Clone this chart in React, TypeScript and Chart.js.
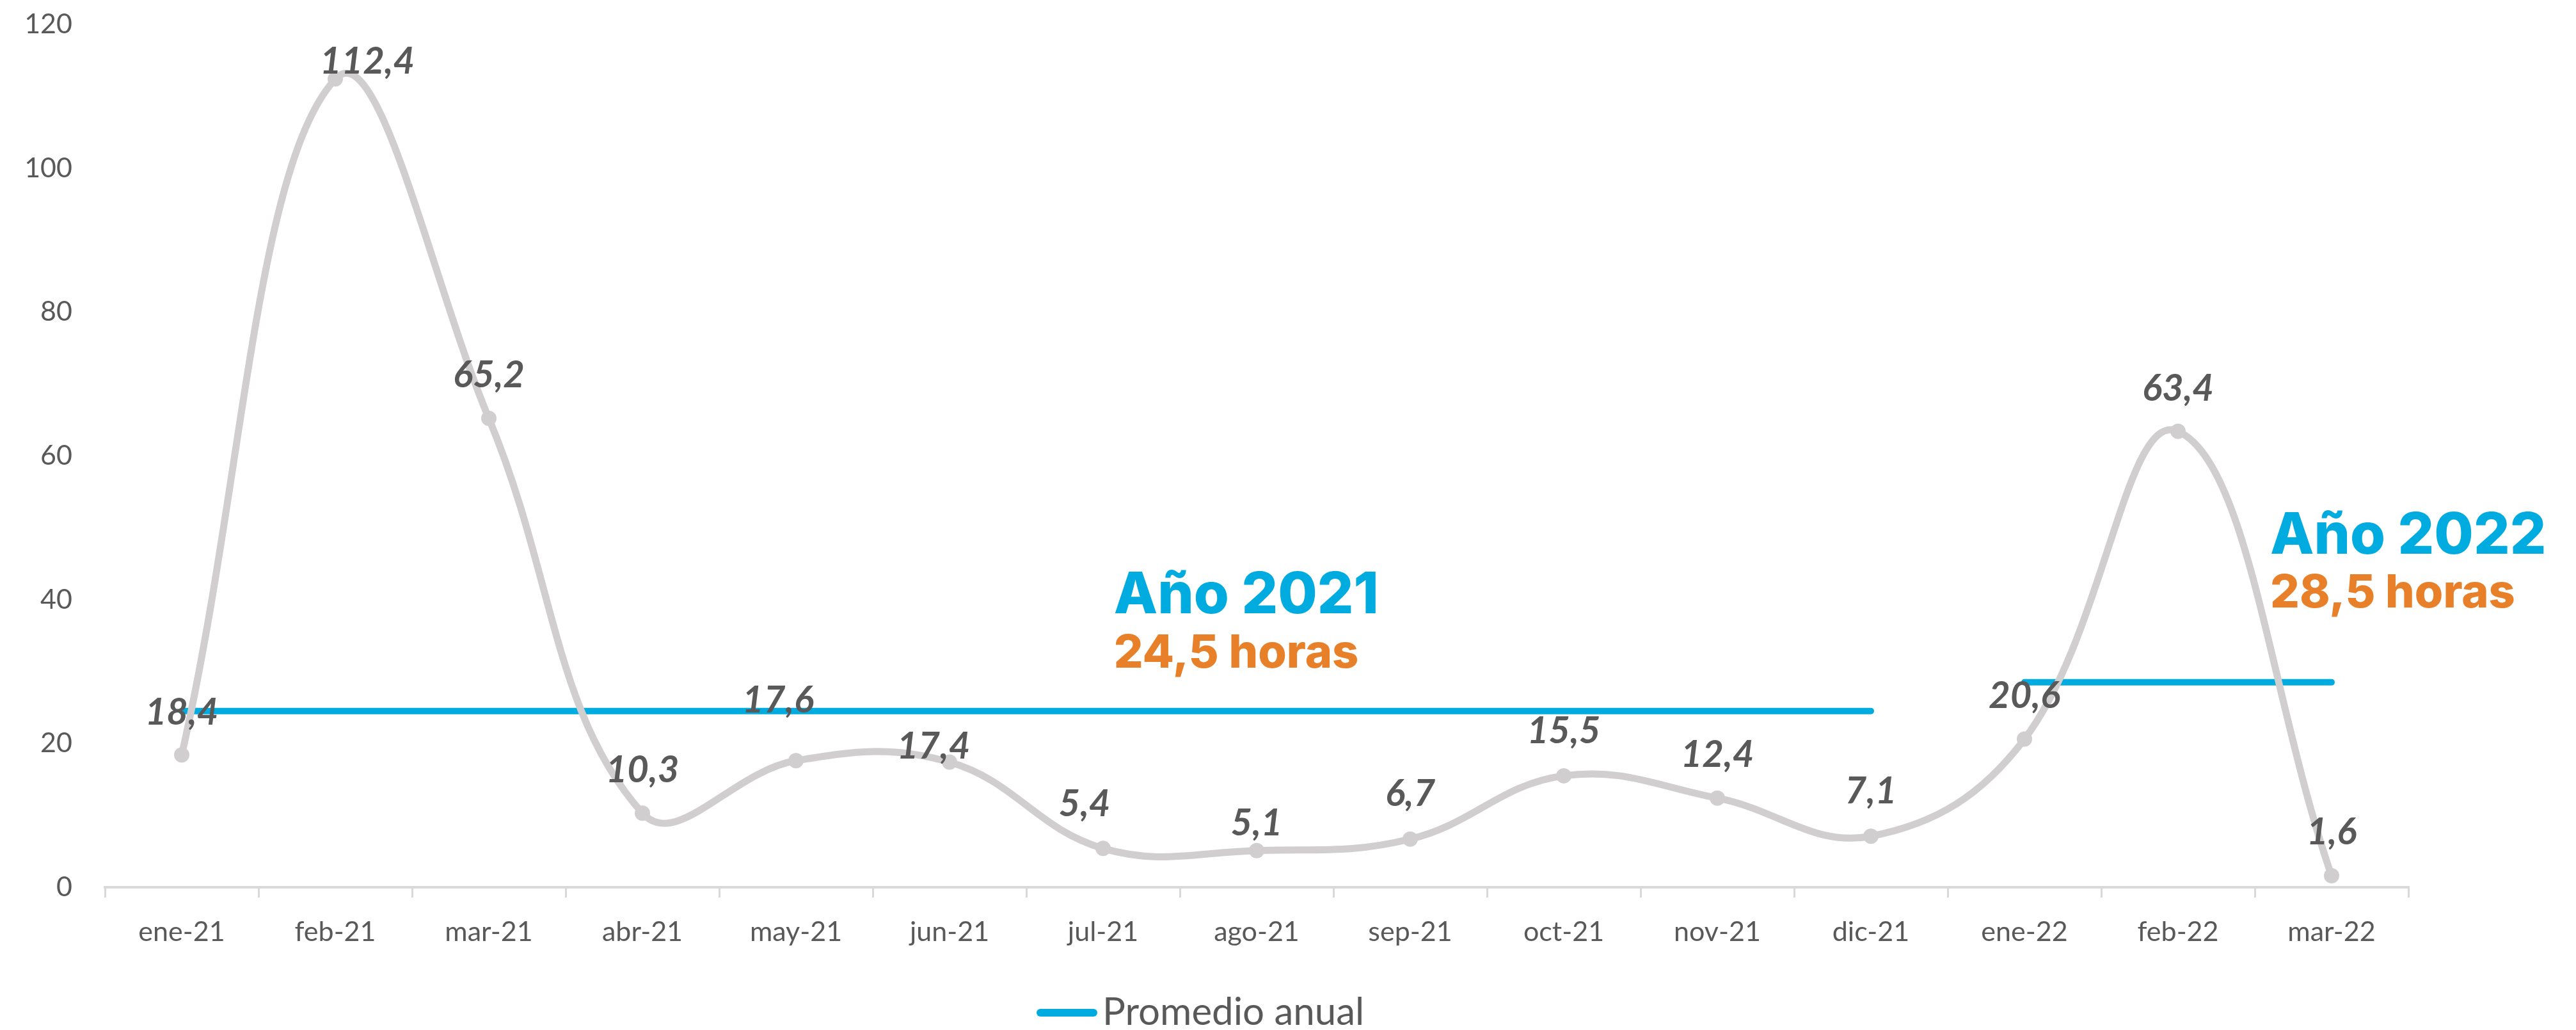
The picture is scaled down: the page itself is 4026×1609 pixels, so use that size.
import React, { useEffect, useRef } from "react";
import { Chart, registerables } from "chart.js";

Chart.register(...registerables);

// ---------- DATA ----------
const categories = [
  "ene-21", "feb-21", "mar-21", "abr-21", "may-21", "jun-21", "jul-21", "ago-21",
  "sep-21", "oct-21", "nov-21", "dic-21", "ene-22", "feb-22", "mar-22",
];
const monthlyHours = [18.4, 112.4, 65.2, 10.3, 17.6, 17.4, 5.4, 5.1, 6.7, 15.5, 12.4, 7.1, 20.6, 63.4, 1.6];
const average2021 = [24.5, 24.5, 24.5, 24.5, 24.5, 24.5, 24.5, 24.5, 24.5, 24.5, 24.5, 24.5, null, null, null];
const average2022 = [null, null, null, null, null, null, null, null, null, null, null, null, 28.5, 28.5, 28.5];
const yTickValues = [0, 20, 40, 60, 80, 100, 120];
const legendLabel = "Promedio anual";
const yearTitles = ["Año 2021", "Año 2022"];
const yearSubtitles = ["24,5 horas", "28,5 horas"];

// ---------- STYLE ----------
const W = 4026;
const H = 1609;
const GRAY = "#D0CECE";
const BLUE = "#00ABE0";
const ORANGE = "#E8802A";
const TEXT = "#595959";
const AXIS = "#D9D9D9";

// per-label pixel offsets for the value labels (dx, dy)
const labelDx = [0, 50, 0, 0, -28, -25, -29, 0, 0, 0, 0, 0, 0, 0, 0];
const labelDy = [-66, -27, -67, -67, -94, -24, -69, -42, -70, -70, -67, -70, -67, -67, -68];

// annotation anchors in data space (category index, value)
const annotationAnchors = [
  { x: 6.07, y1: 38.1, y2: 30.5 },
  { x: 13.6, y1: 46.4, y2: 38.9 },
];

const fmt = (v: number) => v.toFixed(1).replace(".", ",");

const overlayPlugin = {
  id: "overlay",
  afterDatasetsDraw(chart: any) {
    const ctx = chart.ctx;
    const meta = chart.getDatasetMeta(0);
    ctx.save();
    ctx.font = "italic bold 58px Lato";
    ctx.fillStyle = TEXT;
    ctx.textAlign = "center";
    ctx.textBaseline = "middle";
    meta.data.forEach((pt: any, i: number) => {
      ctx.fillText(fmt(monthlyHours[i]), pt.x + labelDx[i], pt.y + labelDy[i]);
    });
    ctx.restore();
  },
  afterDraw(chart: any) {
    const ctx = chart.ctx;
    const xs = chart.scales.x;
    const ys = chart.scales.y;
    ctx.save();
    ctx.textAlign = "left";
    ctx.textBaseline = "alphabetic";
    annotationAnchors.forEach((a, i) => {
      const px = xs.getPixelForValue(a.x);
      ctx.fillStyle = BLUE;
      ctx.font = "800 89px Inter";
      ctx.fillText(yearTitles[i], px, ys.getPixelForValue(a.y1));
      ctx.fillStyle = ORANGE;
      ctx.font = "800 72px Inter";
      ctx.fillText(yearSubtitles[i], px, ys.getPixelForValue(a.y2));
    });

    // legend
    const ca = chart.chartArea;
    const cx = (ca.left + ca.right) / 2;
    const ly = 1582;
    const lineStart = cx - 344;
    const lineEnd = lineStart + 95;
    ctx.strokeStyle = BLUE;
    ctx.lineWidth = 12;
    ctx.lineCap = "round";
    ctx.beginPath();
    ctx.moveTo(lineStart + 6, ly);
    ctx.lineTo(lineEnd - 6, ly);
    ctx.stroke();
    ctx.fillStyle = TEXT;
    ctx.font = "60px Lato";
    ctx.textBaseline = "middle";
    ctx.fillText(legendLabel, lineEnd + 8, ly);
    ctx.restore();
  },
};

export default function App() {
  const ref = useRef<HTMLCanvasElement | null>(null);

  useEffect(() => {
    if (!ref.current) return;
    const chart = new Chart(ref.current, {
      type: "line",
      data: {
        labels: categories,
        datasets: [
          {
            label: "Horas",
            data: monthlyHours,
            borderColor: GRAY,
            backgroundColor: GRAY,
            borderWidth: 11,
            tension: 0.4,
            pointRadius: 12,
            pointBorderWidth: 0,
            pointBackgroundColor: GRAY,
            fill: false,
          },
          {
            label: legendLabel,
            data: average2021,
            borderColor: BLUE,
            backgroundColor: BLUE,
            borderWidth: 10,
            borderCapStyle: "round",
            pointRadius: 0,
            tension: 0,
            spanGaps: false,
            fill: false,
          },
          {
            label: legendLabel + " 2022",
            data: average2022,
            borderColor: BLUE,
            backgroundColor: BLUE,
            borderWidth: 10,
            borderCapStyle: "round",
            pointRadius: 0,
            tension: 0,
            spanGaps: false,
            fill: false,
          },
        ],
      },
      options: {
        responsive: false,
        animation: false,
        layout: { padding: { top: 38, right: 262, bottom: 0, left: 0 } },
        plugins: {
          legend: { display: false },
          tooltip: { enabled: false },
        },
        scales: {
          x: {
            offset: true,
            grid: {
              offset: true,
              drawOnChartArea: false,
              drawTicks: true,
              tickLength: 16,
              color: AXIS,
              lineWidth: 3,
            },
            border: { display: true, color: AXIS, width: 4 },
            ticks: {
              color: TEXT,
              font: { family: "Lato", size: 43 },
              padding: 28,
              maxRotation: 0,
              autoSkip: false,
            },
            afterFit: (scale: any) => {
              scale.height = 223;
            },
          },
          y: {
            min: 0,
            max: 120,
            grid: { display: false, drawTicks: false },
            border: { display: false },
            afterBuildTicks: (scale: any) => {
              scale.ticks = yTickValues.map((v) => ({ value: v }));
            },
            ticks: {
              color: TEXT,
              font: { family: "Lato", size: 43 },
              padding: 51,
            },
            afterFit: (scale: any) => {
              scale.width = 164;
              scale.paddingTop = 0;
              scale.paddingBottom = 0;
            },
          },
        },
      },
      plugins: [overlayPlugin],
    });
    return () => chart.destroy();
  }, []);

  return (
    <div style={{ position: "absolute", left: 0, top: 0, width: W, height: H, background: "#fff" }}>
      <canvas ref={ref} width={W} height={H} style={{ display: "block", width: W, height: H }} />
    </div>
  );
}
